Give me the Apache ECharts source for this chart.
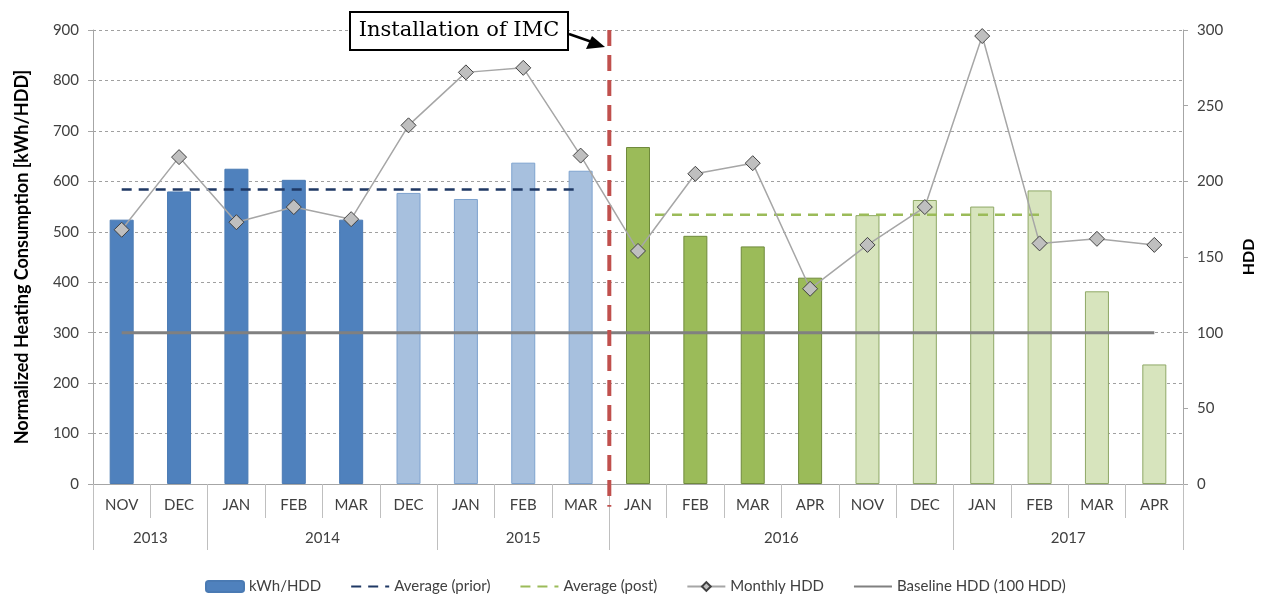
<!DOCTYPE html>
<html>
<head>
<meta charset="utf-8">
<script src="https://cdn.jsdelivr.net/npm/echarts@6/dist/echarts.min.js"></script>
<style>
html,body{margin:0;padding:0;background:#fff;}
#chart{width:1265px;height:596px;}
</style>
</head>
<body>
<div id="chart"></div>
<script>
// 月份类目 & 年份分组
var months = ['NOV','DEC','JAN','FEB','MAR','DEC','JAN','FEB','MAR','JAN','FEB','MAR','APR','NOV','DEC','JAN','FEB','MAR','APR'];
var years = ['2013','2014','2015','2016','2017'];
var yearBounds = [0, 2, 6, 9, 15, 19];   // 年份分隔位置(类目边界)
var yearCenters = [1, 4, 7.5, 12, 17];

// 数据
var kwhPerHdd = [524,580,625,603,524,577,565,637,621,668,492,471,409,533,563,550,582,382,237];
var monthlyHdd = [168,216,173,183,175,237,272,275,217,154,205,212,129,158,183,296,159,162,158];
var avgPrior = 584;
var avgPost = 534;
var baselineHdd = 100;
var installAt = 9;   // IMC安装位置

// 分段颜色 (样式)
function barStyle(i) {
    if (i < 5) return {color:'#4f81bd', borderColor:'#4a7ab3'};
    if (i < 9) return {color:'#a7c0de', borderColor:'#7ea3cf'};
    if (i < 13) return {color:'#9bbb59', borderColor:'#6f8a3c'};
    return {color:'#d7e4bd', borderColor:'#8fa866'};
}

var barData = kwhPerHdd.map(function (v, i) {
    return {value: v, itemStyle: barStyle(i)};
});
var priorData = months.map(function (m, i) { return i <= 8 ? avgPrior : '-'; });
var postData = months.map(function (m, i) { return (i >= 9 && i <= 16) ? avgPost : '-'; });
var baseData = months.map(function () { return baselineHdd; });

var font = 'Lato, "Open Sans", sans-serif';
var txt = '#404040';

var myChart = echarts.init(document.getElementById('chart'));
var option = {
    animation: false,
    textStyle: {fontFamily: font},
    grid: {left: 93, right: 80, top: 30, bottom: 112},
    legend: {
        top: 574,
        left: 200,
        itemGap: 29,
        itemWidth: 38,
        itemHeight: 11,
        textStyle: {fontSize: 15, color: txt, fontFamily: font},
        data: [
            {name: 'kWh/HDD'},
            {name: 'Average (prior)', itemStyle: {opacity: 0}},
            {name: 'Average (post)', itemStyle: {opacity: 0}},
            {name: 'Monthly HDD'},
            {name: 'Baseline HDD (100 HDD)', itemStyle: {opacity: 0}}
        ]
    },
    xAxis: [{
        type: 'category',
        data: months,
        boundaryGap: true,
        axisLine: {lineStyle: {color: '#a6a6a6', width: 1}},
        axisTick: {show: true, interval: 0, length: 34, lineStyle: {color: '#bfbfbf'}},
        axisLabel: {interval: 0, margin: 14, fontSize: 15, color: txt, fontFamily: font},
        splitLine: {show: false}
    }, {
        type: 'value',
        min: 0,
        max: 19,
        position: 'bottom',
        axisLine: {show: false},
        axisTick: {show: true, length: 66, customValues: yearBounds, lineStyle: {color: '#bfbfbf'}},
        axisLabel: {
            margin: 47, fontSize: 15, color: txt, fontFamily: font,
            customValues: yearCenters,
            formatter: function (v) {
                var k = yearCenters.indexOf(v);
                return k >= 0 ? years[k] : '';
            }
        },
        splitLine: {show: false}
    }],
    yAxis: [{
        type: 'value',
        min: 0, max: 900, interval: 100,
        name: 'Normalized Heating Consumption [kWh/HDD]',
        nameLocation: 'middle',
        nameGap: 62,
        nameTextStyle: {fontSize: 18, fontWeight: 'bold', color: '#000', fontFamily: font},
        axisLine: {show: true, lineStyle: {color: '#a6a6a6'}},
        axisTick: {show: true, length: 5, lineStyle: {color: '#a6a6a6'}},
        axisLabel: {fontSize: 15, color: txt, margin: 14, fontFamily: font},
        splitLine: {show: true, lineStyle: {color: '#a0a0a0', type: [3, 3], width: 1}}
    }, {
        type: 'value',
        min: 0, max: 300, interval: 50,
        name: 'HDD',
        nameLocation: 'middle',
        nameGap: 58,
        nameTextStyle: {fontSize: 16, fontWeight: 'bold', color: '#000', fontFamily: font},
        axisLine: {show: true, lineStyle: {color: '#a6a6a6'}},
        axisTick: {show: true, length: 5, lineStyle: {color: '#a6a6a6'}},
        axisLabel: {fontSize: 15, color: txt, margin: 14, fontFamily: font},
        splitLine: {show: false}
    }],
    series: [{
        name: 'kWh/HDD',
        type: 'bar',
        barWidth: 24,
        itemStyle: {color: '#4f81bd', borderWidth: 1, borderColor: '#4a7ab3'},
        data: barData,
        z: 2
    }, {
        name: 'Average (prior)',
        type: 'line',
        data: priorData,
        symbol: 'none',
        itemStyle: {color: '#1f3864'},
        lineStyle: {color: '#1f3864', width: 2.5, type: [10, 7]},
        z: 3
    }, {
        name: 'Average (post)',
        type: 'line',
        data: postData,
        symbol: 'none',
        itemStyle: {color: '#9bbb59'},
        lineStyle: {color: '#9bbb59', width: 2.5, type: [10, 7]},
        z: 3
    }, {
        name: 'Baseline HDD (100 HDD)',
        type: 'line',
        yAxisIndex: 1,
        data: baseData,
        symbol: 'none',
        itemStyle: {color: '#808080'},
        lineStyle: {color: '#808080', width: 3},
        z: 3
    }, {
        name: 'Monthly HDD',
        type: 'line',
        yAxisIndex: 1,
        data: monthlyHdd,
        symbol: 'diamond',
        symbolSize: 15,
        itemStyle: {color: '#bfbfbf', borderColor: '#404040', borderWidth: 1},
        lineStyle: {color: '#a6a6a6', width: 1.5},
        z: 5
    }, {
        // IMC安装分隔线
        name: 'install',
        type: 'line',
        xAxisIndex: 1,
        yAxisIndex: 0,
        data: [[installAt, 900], [installAt, -45]],
        symbol: 'none',
        clip: false,
        lineStyle: {color: '#c0504d', width: 4, type: [16, 9]},
        silent: true,
        z: 4
    }],
    graphic: [{
        type: 'rect',
        shape: {x: 350, y: 12, width: 218, height: 38},
        style: {fill: '#fff', stroke: '#000', lineWidth: 2},
        z: 100
    }, {
        type: 'text',
        x: 459, y: 31,
        style: {
            text: 'Installation of IMC',
            font: '21px "DejaVu Serif", "Liberation Serif", serif',
            fill: '#000',
            align: 'center',
            verticalAlign: 'middle'
        },
        z: 101
    }, {
        type: 'line',
        shape: {x1: 569, y1: 34, x2: 592, y2: 42},
        style: {stroke: '#000', lineWidth: 2.5},
        z: 100
    }, {
        type: 'polygon',
        shape: {points: [[605, 47], [586, 49], [592, 36]]},
        style: {fill: '#000'},
        z: 100
    }]
};
myChart.setOption(option);
</script>
</body>
</html>
